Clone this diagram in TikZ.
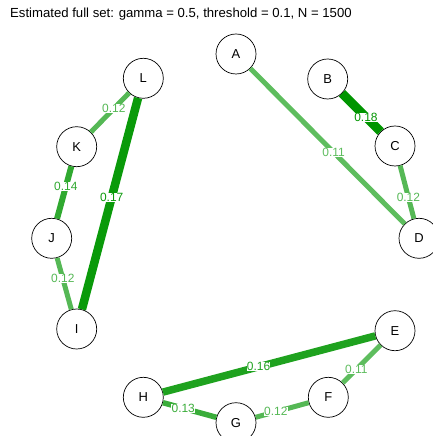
\documentclass[tikz,border=0pt]{standalone}
\usepackage{fontspec}
\setmainfont{Liberation Sans}
\definecolor{e18}{HTML}{009500}
\definecolor{e17}{HTML}{0A9A0A}
\definecolor{e16}{HTML}{1FA21F}
\definecolor{e14}{HTML}{30A930}
\definecolor{e13}{HTML}{3AAD3A}
\definecolor{e12}{HTML}{55B855}
\definecolor{e11}{HTML}{5EBD5E}
\begin{document}
\begin{tikzpicture}[x=1bp,y=-1bp,
  vnode/.style={circle,draw=black,line width=0.7bp,fill=white,minimum size=40bp,inner sep=0pt,font=\fontsize{13}{13}\selectfont},
  elab/.style={fill=white,inner sep=0.3bp,font=\fontsize{12}{12}\selectfont},
  edge18/.style={draw=e18,line width=9bp},
  edge17/.style={draw=e17,line width=8.5bp},
  edge16/.style={draw=e16,line width=7.5bp},
  edge14/.style={draw=e14,line width=6bp},
  edge13/.style={draw=e13,line width=5.5bp},
  edge12/.style={draw=e12,line width=5bp},
  edge11/.style={draw=e11,line width=5bp}]
\useasboundingbox (0,0) rectangle (433,436);
\clip (0,0) rectangle (433,436);
\node[anchor=west,font=\fontsize{13.2}{13.2}\selectfont,inner sep=0pt] (title) at (10,14) {Estimated full set: gamma = 0.5, threshold = 0.1, N = 1500};
\node[vnode] (A) at (236,54) {A};
\node[vnode] (B) at (327.7,79) {B};
\node[vnode] (C) at (395,146) {C};
\node[vnode] (D) at (419,238.3) {D};
\node[vnode] (E) at (395,330.7) {E};
\node[vnode] (F) at (328.3,397.3) {F};
\node[vnode] (G) at (236,422.7) {G};
\node[vnode] (H) at (143.3,397.3) {H};
\node[vnode] (I) at (76.7,329) {I};
\node[vnode] (J) at (51.7,238.3) {J};
\node[vnode] (K) at (76.7,146.7) {K};
\node[vnode] (L) at (143.3,78.3) {L};
\path[edge18] (B) -- node[elab,text=e18,pos=0.62] (lBC) {0.18} (C);
\path[edge11] (A) -- node[elab,text=e11,pos=0.54] (lAD) {0.11} (D);
\path[edge12] (C) -- node[elab,text=e12,pos=0.6] (lCD) {0.12} (D);
\path[edge11] (E) -- node[elab,text=e11,pos=0.64] (lEF) {0.11} (F);
\path[edge16] (E) -- node[elab,text=e16,pos=0.55] (lEH) {0.16} (H);
\path[edge12] (F) -- node[elab,text=e12,pos=0.62] (lFG) {0.12} (G);
\path[edge13] (H) -- node[elab,text=e13,pos=0.38] (lHG) {0.13} (G);
\path[edge17] (L) -- node[elab,text=e17,pos=0.47] (lLI) {0.17} (I);
\path[edge12] (L) -- node[elab,text=e12,pos=0.4] (lLK) {0.12} (K);
\path[edge14] (K) -- node[elab,text=e14,pos=0.39] (lKJ) {0.14} (J);
\path[edge12] (J) -- node[elab,text=e12,pos=0.4] (lJI) {0.12} (I);
\end{tikzpicture}
\end{document}
